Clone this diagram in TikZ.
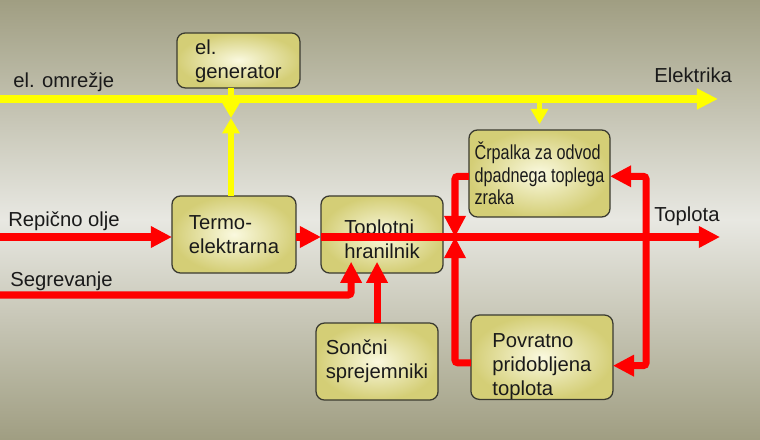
\documentclass[tikz,border=0pt]{standalone}
\usepackage{fontspec}
\setmainfont{Liberation Sans}
\newfontfamily\narrowsans{Liberation Sans}[FakeStretch=0.8]
\usepackage{tikz}
\usetikzlibrary{arrows.meta,positioning}
\usepackage{xcolor}
\definecolor{heatred}{HTML}{FF0000}
\definecolor{elecyellow}{HTML}{FFFF00}
\definecolor{boxolive}{HTML}{D4CE76}
\definecolor{boxlight}{HTML}{FAF9DF}
\definecolor{boxedge}{HTML}{3A3A30}
\definecolor{bgolive}{HTML}{A09E82}
\definecolor{bglight}{HTML}{E8E8E2}
\definecolor{textdark}{HTML}{1A1A1A}
\newcommand{\toppad}[1]{\rule{0pt}{#1}}

\begin{document}
\begin{tikzpicture}[
  x=0.025cm, y=-0.025cm,
  box/.style={draw=boxedge, line width=0.9pt, rectangle, rounded corners=6pt,
              inner color=boxlight, outer color=boxolive,
              inner sep=0pt, outer sep=0pt, align=left, text=textdark,
              font=\fontsize{14.4}{17}\selectfont},
  lbl/.style={anchor=base west, inner sep=0pt, text=textdark,
              font=\fontsize{14.4}{17}\selectfont},
  heat/.style={draw=heatred, line width=5pt, rounded corners=2pt,
               -{Triangle[length=15pt,width=14.5pt]}},
  heatboth/.style={heat, {Triangle[length=15pt,width=14.5pt]}-{Triangle[length=15pt,width=14.5pt]}},
  elec/.style={draw=elecyellow, line width=5pt,
               -{Triangle[length=15pt,width=14pt]}},
  elecdrop/.style={draw=elecyellow, line width=4pt,
                   -{Triangle[length=11pt,width=12pt]}},
  node distance=0.625cm
]

%% Background
\useasboundingbox (0,0) rectangle (760,439);
\shade[top color=bgolive, bottom color=bgolive, middle color=bglight]
  (0,0) rectangle (760,439);

%% Row 1: fuel and heat storage
\node[box, minimum width=3.1cm, minimum height=1.925cm]
  (termo) at (234,234.5) {Termo-\\elektrarna};

\node[box, minimum width=3.05cm, minimum height=1.925cm, right=0.625cm of termo]
  (hran) {\toppad{17pt}Toplotni\\hranilnik};

\node[box, minimum width=3.075cm, minimum height=1.375cm, above=2.7cm of termo, xshift=0.11cm]
  (gen) {\toppad{12pt}el.\\generator};

\node[box, minimum width=3.05cm, minimum height=1.925cm, below=1.25cm of hran, xshift=-0.125cm]
  (sonc) {Sončni\\sprejemniki};

%% Right side: pump and recovered heat
\node[box, minimum width=3.525cm, minimum height=2.175cm,
      font=\narrowsans\fontsize{14.4}{16}\selectfont]
  (crp) at (539.5,173.5) {Črpalka za odvod\\dpadnega toplega\\zraka};

\node[box, minimum width=3.55cm, minimum height=2.075cm, below=2.45cm of crp, xshift=0.06cm]
  (pov) {\toppad{23pt}Povratno\\pridobljena\\toplota};

%% Line ends
\coordinate (omr) at (0,99);
\coordinate (elek) at (718,99);
\coordinate (rep) at (0,237);
\coordinate (topl) at (720,237);
\coordinate (seg) at (0,295);
\coordinate (genx) at (231,118);
\coordinate (kriz) at (455,237);

%% Electricity
\draw[elec] (omr) -- (elek);
\draw[elecdrop] (gen.south -| genx) -- (genx);
\draw[elecdrop] (termo.north -| genx) -- (genx);
\draw[elecdrop, line width=3pt, shorten >=4pt] (crp.north |- omr) -- (crp.north);

%% Heat
\draw[heat] (rep) -- (termo.west |- rep);
\draw[heat] (termo.east |- rep) -- (hran.west |- rep);
\draw[heat] (hran.west |- rep) -- (topl);
\draw[heat] ([yshift=-2pt]crp.west) -| (kriz);
\draw[heat] ([yshift=-4pt]pov.west) -| (kriz);
\draw[heatboth] ([yshift=-2pt]crp.east) -- ++(36,0) |- ([yshift=-6pt]pov.east);
\draw[heat, shorten >=-8pt] (seg) -| ([xshift=-22pt]hran.south);
\draw[heat, shorten >=-8pt] (sonc.north) -- (sonc.north |- hran.south);

%% Labels
\node[lbl] (lomr) at (13,88) {el. omrežje};
\node[lbl] (lelek) at (654,83) {Elektrika};
\node[lbl] (lrep) at (8,226) {Repično olje};
\node[lbl] (lseg) at (10,286) {Segrevanje};
\node[lbl] (ltopl) at (654,221) {Toplota};

\end{tikzpicture}
\end{document}
